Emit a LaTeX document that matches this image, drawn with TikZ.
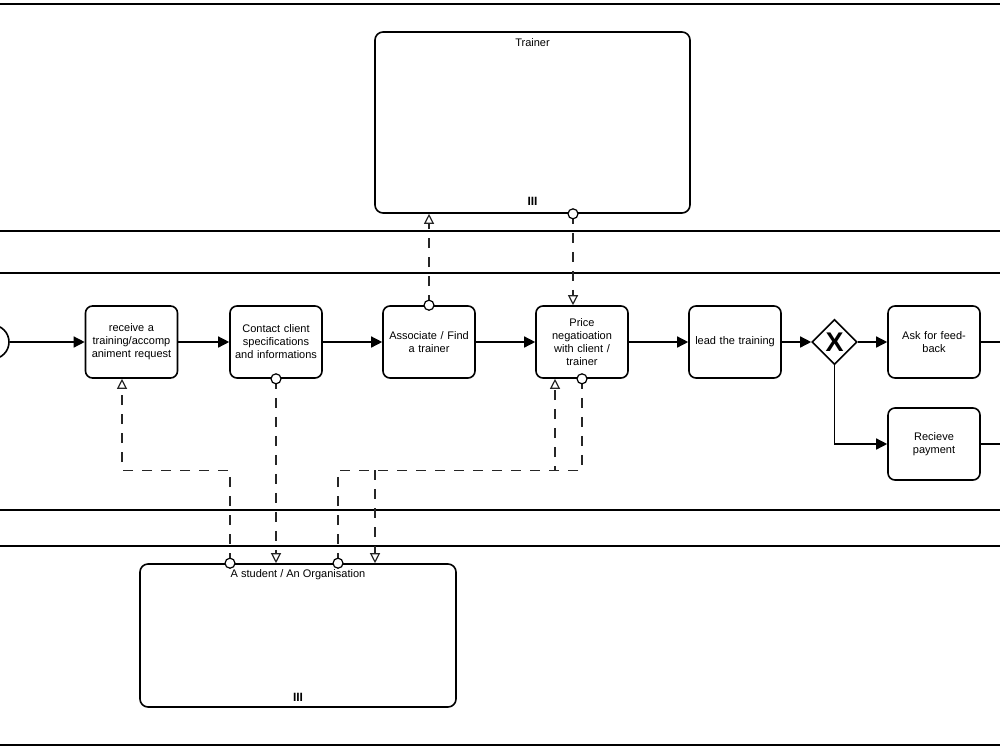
\documentclass[tikz,border=0pt]{standalone}
\usepackage{fontspec}
\setmainfont{Liberation Sans}
\usetikzlibrary{arrows.meta,calc,shapes.geometric}
\begin{document}
\begin{tikzpicture}[x=1pt,y=-1pt,
  lane/.style={line width=1.6pt},
  task/.style={draw,line width=1.6pt,rounded corners=7pt,minimum width=91pt,minimum height=72pt,inner sep=2pt,align=center,font=\fontsize{11}{13}\selectfont,text width=88pt},
  pool/.style={draw,line width=1.6pt,rounded corners=8pt,inner sep=0pt},
  seq/.style={line width=1.4pt,-{Triangle[length=11pt,width=11pt]}},
  msg/.style={line width=1.3pt,draw=black!85,dash pattern=on 10pt off 9pt,-{Triangle[open,length=10pt,width=10pt,line width=1.2pt]}},
  src/.style={circle,draw,fill=white,line width=1.2pt,minimum size=10pt,inner sep=0pt},
  lbl/.style={font=\fontsize{11}{13}\selectfont,inner sep=0pt},
  poolmk/.style={font=\bfseries\fontsize{12}{12}\selectfont,inner sep=0pt}
]
\useasboundingbox (0,0) rectangle (1000,750);
% lane lines
\foreach \yy/\nm in {4/la,231/lb,273/lc,510/ld,546/le,745/lf}{
  \draw[lane] (0,\yy) coordinate (\nm w) -- (1000,\yy) coordinate (\nm e);
}
% pools
\node[pool,minimum width=315pt,minimum height=181pt] (trainer) at (532.5,122.5) {};
\node[lbl] (trainerlbl) at (532.5,43) {Trainer};
\node[poolmk] (trainermk) at (532.5,201) {III};
\node[pool,minimum width=316pt,minimum height=143pt] (student) at (298,635.5) {};
\node[lbl] (studentlbl) at (298,575) {A student / An Organisation};
\node[poolmk] (studentmk) at (298,697) {III};
% start event
\node[circle,draw,line width=1.6pt,minimum size=34pt,inner sep=0pt] (start) at (-8,342) {};
% tasks
\node[task] (t1) at (131.5,342) {receive a\\training/accomp\\animent request};
\node[task] (t2) at (276,342) {Contact client\\specifications\\and informations};
\node[task] (t3) at (429,342) {Associate / Find\\a trainer};
\node[task] (t4) at (582,342) {Price\\negatioation\\with client /\\trainer};
\node[task] (t5) at (735,342) {lead the training};
\node[diamond,draw,line width=1.6pt,minimum width=45pt,minimum height=45pt,inner sep=0pt,font=\bfseries\fontsize{27}{27}\selectfont] (gw) at (834.5,342) {X};
\node[task] (t6) at (934,342) {Ask for feed-\\back};
\node[task] (t7) at (934,444) {Recieve\\payment};
\coordinate (o6) at (1000,342);
\coordinate (o7) at (1000,444);
% sequence flows
\draw[seq] (start) -- (t1);
\draw[seq] (t1) -- (t2);
\draw[seq] (t2) -- (t3);
\draw[seq] (t3) -- (t4);
\draw[seq] (t4) -- (t5);
\draw[seq] (t5) -- (gw);
\draw[seq] (gw) -- (t6);
\draw[seq] (gw.south) |- (t7.west);
\draw[line width=1.4pt] (t6.east) -- (o6);
\draw[line width=1.4pt] (t7.east) -- (o7);
% message flow anchor points
\coordinate (s1) at ($(student.north)+(-68,0)$);
\coordinate (e1) at ($(t1.south)+(-9.5,0)$);
\coordinate (s2) at (t2.south);
\coordinate (e2) at ($(student.north)+(-22,0)$);
\coordinate (s3) at ($(student.north)+(40,0)$);
\coordinate (e3) at ($(t4.south)+(-27,0)$);
\coordinate (s4) at (t4.south);
\coordinate (e4) at ($(student.north)+(77,0)$);
\coordinate (s5) at (t3.north);
\coordinate (e5) at ($(trainer.south)+(-103.5,0)$);
\coordinate (s6) at ($(trainer.south)+(40.5,0)$);
\coordinate (e6) at ($(t4.north)+(-9,0)$);
\coordinate (k3) at ($(s3)+(0,-93)$);
\coordinate (j3) at (e3 |- k3);
\coordinate (j4) at (e4 |- k3);
% message flows
\draw[msg] (s1) -- ($(s1)+(0,-93)$) -| (e1);
\draw[msg] (s2) -- (e2 |- s2) -- (e2);
\draw[msg] (s3) -- (k3) -| (e3);
\draw[msg] (s4) |- (j3) (j4) -- (e4);
\draw[msg] (s5) -- (e5);
\draw[msg] (s6) -- (e6);
% source circles
\foreach \c in {s1,s2,s3,s4,s5,s6}{
  \node[src] (c\c) at (\c) {};
}
\end{tikzpicture}
\end{document}
